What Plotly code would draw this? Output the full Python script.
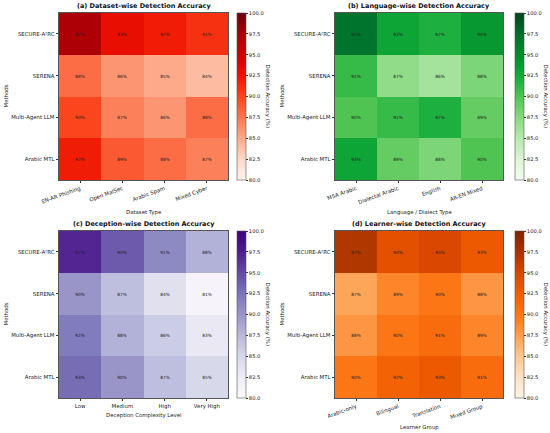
import colorsys
import plotly.graph_objects as go
import plotly.express as px

methods = ["SECURE-A²RC", "SERENA", "Multi-Agent LLM", "Arabic MTL"]

dataset_types = ["EN-AR Phishing", "Open MalSec", "Arabic Spam", "Mixed Cyber"]
dataset_vals = [[97, 93, 92, 91],
                [88, 86, 85, 84],
                [90, 87, 86, 88],
                [92, 89, 88, 87]]

language_types = ["MSA Arabic", "Dialectal Arabic", "English", "AR-EN Mixed"]
language_vals = [[97, 93, 92, 94],
                 [91, 87, 86, 88],
                 [90, 91, 92, 89],
                 [93, 89, 88, 90]]

deception_levels = ["Low", "Medium", "High", "Very High"]
deception_vals = [[97, 94, 91, 88],
                  [90, 87, 84, 81],
                  [92, 88, 86, 83],
                  [93, 90, 87, 85]]

learner_groups = ["Arabic-only", "Bilingual", "Translation", "Mixed Group"]
learner_vals = [[97, 94, 95, 93],
                [87, 89, 90, 88],
                [88, 90, 91, 89],
                [90, 92, 93, 91]]

titles = ["(a) Dataset-wise Detection Accuracy", "(b) Language-wise Detection Accuracy",
          "(c) Deception-wise Detection Accuracy", "(d) Learner-wise Detection Accuracy"]
xtitles = ["Dataset Type", "Language / Dialect Type", "Deception Complexity Level", "Learner Group"]
cats = [dataset_types, language_types, deception_levels, learner_groups]
vals = [dataset_vals, language_vals, deception_vals, learner_vals]


def boost(scale, f):
    out = []
    n = len(scale)
    for k, c in enumerate(scale):
        r, g, b = [int(v) / 255 for v in c[c.index("(") + 1:-1].split(",")]
        h, s, v = colorsys.rgb_to_hsv(r, g, b)
        s = min(1.0, s * f)
        r, g, b = colorsys.hsv_to_rgb(h, s, v)
        out.append([k / (n - 1), "rgb(%d,%d,%d)" % (r * 255, g * 255, b * 255)])
    return out


scales = [boost(px.colors.sequential.Reds, 1.25), boost(px.colors.sequential.Greens, 1.45),
          boost(px.colors.sequential.Purples, 1.1), boost(px.colors.sequential.Oranges, 1.2)]

W, H = 550, 433
boxes = [(59, 228, 13, 180), (335, 503, 13, 180), (59, 228, 231, 398), (335, 503, 231, 398)]
cbx = [237, 515, 237, 515]
xt_ys = [212, 212, 415, 427]
FONT = "DejaVu Sans"

fig = go.Figure()
annotations = []
for i in range(4):
    x0, x1, yt, yb = boxes[i]
    ax = "" if i == 0 else str(i + 1)
    dx = [x0 / W, x1 / W]
    dy = [1 - yb / H, 1 - yt / H]
    fig.add_trace(go.Heatmap(
        z=vals[i], x=cats[i], y=methods,
        xaxis="x" + ax, yaxis="y" + ax,
        colorscale=scales[i], zmin=80, zmax=100,
        texttemplate="%{z:.0f}%", textfont=dict(size=4.3, color="#222", family=FONT),
        colorbar=dict(x=cbx[i] / W, xanchor="left", xref="paper", xpad=0, ypad=0,
                      y=(dy[0] + dy[1]) / 2, yanchor="middle",
                      len=(yb - yt) / H, lenmode="fraction", thickness=9, thicknessmode="pixels",
                      tickvals=[80, 82.5, 85, 87.5, 90, 92.5, 95, 97.5, 100],
                      ticktext=["80.0", "82.5", "85.0", "87.5", "90.0", "92.5", "95.0", "97.5", "100.0"],
                      ticks="outside", ticklen=2, tickwidth=0.6, tickcolor="#333",
                      tickfont=dict(size=5.2, family=FONT, color="#222"),
                      outlinewidth=0.6, outlinecolor="#555"),
    ))
    tickangle = 0 if i == 2 else -20
    fig.update_layout(**{
        "xaxis" + ax: dict(domain=dx, anchor="y" + ax, tickangle=tickangle,
                           tickfont=dict(size=5.4, family=FONT, color="#222"),
                           ticks="outside", ticklen=2.5, tickwidth=0.6, tickcolor="#333",
                           showline=True, mirror=True, linecolor="#555", linewidth=0.8,
                           automargin=False, showgrid=False, zeroline=False),
        "yaxis" + ax: dict(domain=dy, anchor="x" + ax, autorange="reversed",
                           tickfont=dict(size=5.4, family=FONT, color="#222"),
                           ticks="outside", ticklen=2.5, tickwidth=0.6, tickcolor="#333",
                           showline=True, mirror=True, linecolor="#555", linewidth=0.8,
                           automargin=False, showgrid=False, zeroline=False),
    })
    annotations.append(dict(text="<b>" + titles[i] + "</b>", x=(x0 + x1) / 2 / W, y=1 - (yt - 1) / H,
                            xref="paper", yref="paper", xanchor="center", yanchor="bottom",
                            showarrow=False, font=dict(size=6.5, family=FONT, color="#111")))
    annotations.append(dict(text=xtitles[i], x=(x0 + x1) / 2 / W, y=1 - xt_ys[i] / H,
                            xref="paper", yref="paper", xanchor="center", yanchor="middle",
                            showarrow=False, font=dict(size=5.4, family=FONT, color="#222")))
    annotations.append(dict(text="Methods", x=(x0 - 54) / W, y=1 - (yt + yb) / 2 / H,
                            xref="paper", yref="paper", xanchor="center", yanchor="middle",
                            textangle=-90, showarrow=False,
                            font=dict(size=5.4, family=FONT, color="#222")))
    annotations.append(dict(text="Detection Accuracy (%)", x=(cbx[i] + 30) / W, y=1 - (yt + yb) / 2 / H,
                            xref="paper", yref="paper", xanchor="center", yanchor="middle",
                            textangle=90, showarrow=False,
                            font=dict(size=5.4, family=FONT, color="#222")))

fig.update_layout(width=W, height=H, margin=dict(l=0, r=0, t=0, b=0, autoexpand=False),
                  paper_bgcolor="white", plot_bgcolor="white",
                  annotations=annotations, font=dict(family=FONT))
fig.write_html("out.html", config={"displayModeBar": False},
               post_script="document.body.style.margin='0';document.body.style.overflow='hidden';")
